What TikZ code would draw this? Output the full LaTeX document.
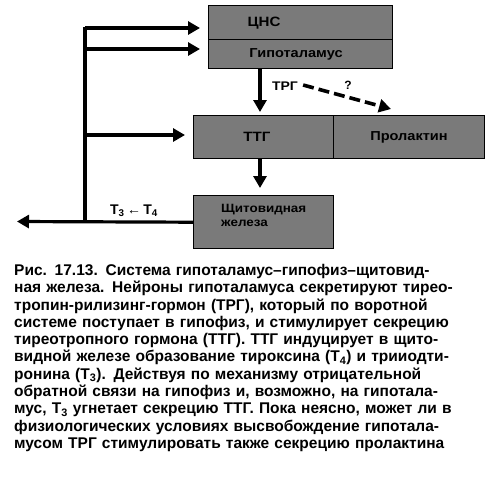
\documentclass[tikz,border=0pt]{standalone}
\usepackage{fontspec}
\setmainfont{Liberation Sans}
\newfontfamily\boxfont[FakeStretch=1.12]{Liberation Sans}
\usetikzlibrary{arrows.meta}
\newcommand\capline[1]{\noindent\makebox[471pt][s]{#1}\par}
\tikzset{
  box/.style={draw=black, line width=1.4pt, fill=black!52, inner sep=0pt, anchor=north west},
  boxtext/.style={font=\boxfont\bfseries\fontsize{12}{13}\selectfont, text=black, inner sep=0pt},
  conn/.style={line width=3.2pt},
  arr/.style={line width=3.2pt, -{Triangle[length=12pt,width=13pt]}},
  darr/.style={line width=3.6pt, dash pattern=on 11pt off 5pt, -{Triangle[length=12pt,width=13pt]}},
}
\begin{document}
\begin{tikzpicture}[x=1pt,y=-1pt]
\useasboundingbox (0,0) rectangle (500,483);
% boxes
\node[box, minimum width=184pt, minimum height=34pt] (cns) at (208,5) {};
\node[box, minimum width=184pt, minimum height=29pt] (hyp) at (208,39) {};
\node[box, minimum width=140pt, minimum height=43pt] (ttg) at (193,115) {};
\node[box, minimum width=151pt, minimum height=43pt] (prl) at (333,115) {};
\node[box, minimum width=140pt, minimum height=53pt] (thy) at (193,195) {};
% labels
\node[boxtext, font=\boxfont\bfseries\fontsize{13.5}{14}\selectfont] (cnsl) at (264,23) {ЦНС};
\node[boxtext, font=\boxfont\bfseries\fontsize{13}{14}\selectfont] (hypl) at (296,54) {Гипоталамус};
\node[boxtext, font=\boxfont\bfseries\fontsize{13.5}{14}\selectfont] (ttgl) at (257,137) {ТТГ};
\node[boxtext, font=\boxfont\bfseries\fontsize{13}{14}\selectfont] (prll) at (409,137) {Пролактин};
\node[boxtext, anchor=north west, align=left, font=\boxfont\bfseries\fontsize{12}{14}\selectfont] (thyl) at (221,204) {Щитовидная\\железа};
% coordinates
\coordinate (vtop) at (85,26.5);
\coordinate (j1) at (85,28);
\coordinate (j2) at (85,49);
\coordinate (j3) at (85,135);
\coordinate (out) at (17,221.5);
\coordinate (vbot) at (85,221.5);
\coordinate (q) at (391,109);
% feedback system
\draw[conn] (vtop) -- (vbot);
\draw[arr, shorten >=8pt] (j1) -- (j1 -| cns.west);
\draw[arr, shorten >=8pt] (j2) -- (j2 -| hyp.west);
\draw[arr, shorten >=8pt] (j3) -- (j3 -| ttg.west);
\draw[arr] (thy.west) -- (out);
% vertical flow
\draw[arr, shorten >=3pt] (hyp.south -| 260,0) -- (ttg.north -| 260,0);
\draw[arr, shorten >=7pt] (ttg.south -| 260,0) -- (thy.north -| 260,0);
% TRG
\node[font=\boxfont\bfseries\fontsize{12.5}{13}\selectfont, inner sep=0pt] (trg) at (285,86) {ТРГ};
\draw[darr] (trg.east) ++(5pt,1pt) coordinate (d0) (d0) -- (q);
\node[font=\bfseries\fontsize{12}{12}\selectfont, inner sep=0pt] (qm) at (348,85) {?};
\node[font=\bfseries\fontsize{14}{15}\selectfont, inner sep=0pt] (t34) at (134,211) {T\textsubscript{3}\,←\,T\textsubscript{4}};
% caption
\node[anchor=north west, inner sep=0pt, text width=471pt, align=left,
      font=\bfseries\fontsize{15.5}{17.3}\selectfont] (cap) at (14,264) {%
\capline{Рис. 17.13. Система гипоталамус–гипофиз–щитовид-}%
\capline{ная железа. Нейроны гипоталамуса секретируют тирео-}%
\capline{тропин-рилизинг-гормон (ТРГ), который по воротной}%
\capline{системе поступает в гипофиз, и стимулирует секрецию}%
\capline{тиреотропного гормона (ТТГ). ТТГ индуцирует в щито-}%
\capline{видной железе образование тироксина (Т\textsubscript{4}) и трииодти-}%
\capline{ронина (Т\textsubscript{3}). Действуя по механизму отрицательной}%
\capline{обратной связи на гипофиз и, возможно, на гипотала-}%
\capline{мус, Т\textsubscript{3} угнетает секрецию ТТГ. Пока неясно, может ли в}%
\capline{физиологических условиях высвобождение гипотала-}%
\capline{мусом ТРГ стимулировать также секрецию пролактина}};
\end{tikzpicture}
\end{document}
